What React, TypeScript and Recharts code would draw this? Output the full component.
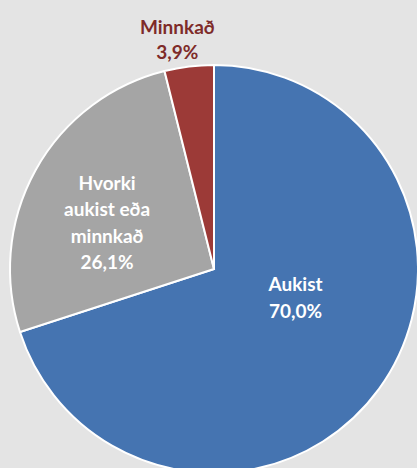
import { PieChart, Pie, Cell } from "recharts";

const categories = ["Aukist", "Hvorki aukist eða minnkað", "Minnkað"];
const values = [70.0, 26.1, 3.9];
const labelLines = [["Aukist"], ["Hvorki", "aukist eða", "minnkað"], ["Minnkað"]];
const colors = ["#4574b1", "#a5a5a5", "#9c3a37"];
const textColors = ["#ffffff", "#ffffff", "#7e2b29"];

// label placement tweaks (radius fraction + nudge), Excel-like best fit
const labelPos = [
  { r: 0.5, dx: -1, dy: -32, lh: 27 },
  { r: 0.56, dx: -7, dy: 8, lh: 26.5 },
  { r: 1.15, dx: -8, dy: 2.5, lh: 25 },
];

const data = categories.map((name, i) => ({ name, value: values[i] }));

const fmt = (v: number) => v.toFixed(1).replace(".", ",") + "%";

const RADIAN = Math.PI / 180;

const renderLabel = (props: any) => {
  const { cx, cy, midAngle, outerRadius, index, value } = props;
  const p = labelPos[index];
  const r = outerRadius * p.r;
  const x = cx + r * Math.cos(-midAngle * RADIAN) + p.dx;
  const y = cy + r * Math.sin(-midAngle * RADIAN) + p.dy;
  const lines = [...labelLines[index], fmt(value)];
  const y0 = y - ((lines.length - 1) * p.lh) / 2;
  return (
    <text
      x={x}
      y={y0}
      textAnchor="middle"
      dominantBaseline="central"
      fill={textColors[index]}
      fontFamily="Lato, 'Open Sans', sans-serif"
      fontWeight="bold"
      fontSize={19}
    >
      {lines.map((l, i) => (
        <tspan key={i} x={x} y={y0 + i * p.lh}>
          {l}
        </tspan>
      ))}
    </text>
  );
};

export default function App() {
  return (
    <div style={{ position: "absolute", left: 0, top: 0, width: 417, height: 468, background: "#e4e4e4", overflow: "hidden" }}>
      <PieChart width={417} height={468} margin={{ top: 0, right: 0, bottom: 0, left: 0 }}>
        <Pie
          data={data}
          dataKey="value"
          nameKey="name"
          cx={214}
          cy={269}
          outerRadius={204}
          startAngle={90}
          endAngle={-270}
          stroke="#ffffff"
          strokeWidth={2}
          label={renderLabel}
          labelLine={false}
          isAnimationActive={false}
        >
          {data.map((d, i) => (
            <Cell key={d.name} fill={colors[i]} />
          ))}
        </Pie>
      </PieChart>
    </div>
  );
}
